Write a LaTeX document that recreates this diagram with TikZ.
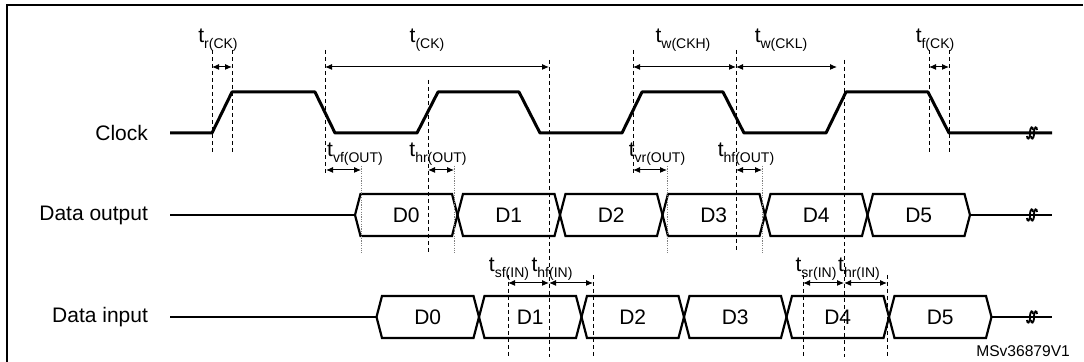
\documentclass[tikz,border=0pt]{standalone}
\usepackage{fontspec}
\setmainfont{Liberation Sans}
\usetikzlibrary{arrows.meta,positioning,calc}
\newcommand{\tsub}[1]{t\raisebox{-0.5ex}{\fontsize{7}{8}\selectfont #1}}

\begin{document}
\begin{tikzpicture}[x=0.5pt,y=-0.5pt,
    wave/.style={line width=1.5pt,line join=round},
    bus/.style={line width=1.1pt,line join=miter},
    guide/.style={line width=0.5pt,dash pattern=on 2pt off 1.5pt},
    faint/.style={line width=0.4pt,gray,dash pattern=on 0.6pt off 0.6pt},
    dim/.style={{Latex[length=3.5pt,width=3pt]}-{Latex[length=3.5pt,width=3pt]},line width=0.5pt},
    sig/.style={anchor=east,font=\fontsize{10.5}{12}\selectfont},
    tlab/.style={anchor=base,font=\fontsize{10.5}{12}\selectfont},
    brk/.style={line width=0.9pt}]
    \useasboundingbox (0,0) rectangle (1084,362);
    \draw[line width=1.4pt] (7,362) -- (7,5) -- (1083,5);

    % signal names
    \node[sig](clk) at (155,133){Clock};
    \node[sig](dout) at (155,215){Data output};
    \node[sig](din) at (155,317){Data input};

    % clock
    \draw[wave] (170,133) -- (212,133) -- (232,92) -- (315,92) -- (335,133) -- (417,133) -- (438,92)
        -- (519,92) -- (540,133) -- (622,133) -- (642,92) -- (723,92) -- (744,133) -- (826,133)
        -- (846,92) -- (928,92) -- (949,133) -- (1052,133);

    % data busses
    \draw[bus] (170,215) -- (355,215) (970,215) -- (1052,215);
    \draw[bus] (170,317) -- (376.5,317) (991.5,317) -- (1052,317);
    \foreach \i in {0,...,5}{
        \pgfmathsetmacro\xa{355+102.5*\i}
        \pgfmathsetmacro\xb{\xa+102.5}
        \draw[bus] (\xa,215) -- (\xa+5.5,194) -- (\xb-5.5,194) -- (\xb,215) -- (\xb-5.5,236) -- (\xa+5.5,236) -- cycle;
        \node[font=\fontsize{10.5}{12}\selectfont](o\i) at ({(\xa+\xb)/2},215){D\i};
        \pgfmathsetmacro\xc{376.5+102.5*\i}
        \pgfmathsetmacro\xd{\xc+102.5}
        \draw[bus] (\xc,317) -- (\xc+5.5,296) -- (\xd-5.5,296) -- (\xd,317) -- (\xd-5.5,338) -- (\xc+5.5,338) -- cycle;
        \node[font=\fontsize{10.5}{12}\selectfont](n\i) at ({(\xc+\xd)/2},317){D\i};
    }
    \foreach \y in {133,215,317}{
        \foreach \s in {0,4}{
            \draw[brk] (1027+\s,\y+3) .. controls (1027+\s,\y+7) and (1030+\s,\y+7) .. (1030+\s,\y)
                .. controls (1030+\s,\y-7) and (1033+\s,\y-7) .. (1033+\s,\y-3);
        }
    }

    % guide lines
    \foreach \x/\ya/\yb in {212/50/155,232/50/155,325/50/175,428/80/253,549/60/357,633/50/175,
        736/50/253,844/60/357,929/50/155,949/50/155,508/275/357,593/275/357,803/275/357,887/275/357}
        \draw[guide] (\x,\ya) -- (\x,\yb);
    \foreach \x in {361,454,667,762}
        \draw[faint] (\x,166) -- (\x,253);

    % timing arrows
    \foreach \n/\x/\y in {r1/212/67,r2/232/67,c1/325/67,c2/549/67,h1/633/67,h2/736/67,l2/837/67,
        f1/929/67,f2/949/67,vf1/326/170,vf2/361/170,hr1/428/170,hr2/454/170,vr1/633/170,vr2/667/170,
        hf1/736/170,hf2/762/170,sf1/508/283,sf2/549/283,hi2/593/283,sr1/803/283,sr2/844/283,ri2/887/283}
        \coordinate(\n) at (\x,\y);
    \draw[dim] (r1) -- (r2);
    \draw[dim] (c1) -- (c2);
    \draw[dim] (h1) -- (h2);
    \draw[dim] (h2) -- (l2);
    \draw[dim] (f1) -- (f2);
    \draw[dim] (vf1) -- (vf2);
    \draw[dim] (hr1) -- (hr2);
    \draw[dim] (vr1) -- (vr2);
    \draw[dim] (hf1) -- (hf2);
    \draw[dim] (sf1) -- (sf2);
    \draw[dim] (sf2) -- (hi2);
    \draw[dim] (sr1) -- (sr2);
    \draw[dim] (sr2) -- (ri2);

    % timing labels
    \node[tlab](tr) at (218,43){\tsub{r(CK)}};
    \node[tlab](tc) at (427,43){\tsub{(CK)}};
    \node[tlab](twh) at (683,43){\tsub{w(CKH)}};
    \node[tlab](twl) at (781,43){\tsub{w(CKL)}};
    \node[tlab](tf) at (935,43){\tsub{f(CK)}};
    \node[tlab](tvf) at (355,157){\tsub{vf(OUT)}};
    \node[tlab](thr) at (438,157){\tsub{hr(OUT)}};
    \node[tlab](tvr) at (657,157){\tsub{vr(OUT)}};
    \node[tlab](thf) at (746,157){\tsub{hf(OUT)}};
    \node[tlab](tsf) at (509,272){\tsub{sf(IN)}};
    \node[tlab](thfi) at (552,272){\tsub{hf(IN)}};
    \node[tlab](tsr) at (816,272){\tsub{sr(IN)}};
    \node[tlab](thri) at (859,272){\tsub{hr(IN)}};

    \node[anchor=base east,font=\fontsize{7.8}{9}\selectfont](ref) at (1077,357){MSv36879V1};
\end{tikzpicture}
\end{document}
